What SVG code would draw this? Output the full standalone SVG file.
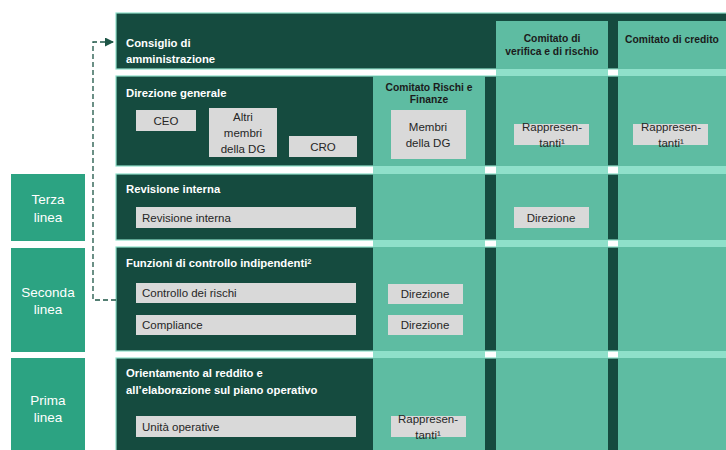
<svg xmlns="http://www.w3.org/2000/svg" width="726" height="450" viewBox="0 0 726 450">
<defs>
<style>
.row{fill:#154b3f;stroke:#8fe0ca;stroke-width:1.2}
.col{fill:#5ebca2}
.gap{fill:#8fe0ca}
.lbl{fill:#2ca382}
.box{fill:#d9d9d9}
.t{font-family:"Liberation Sans",Arial,sans-serif}
.hw{font-family:"Liberation Sans",Arial,sans-serif;font-weight:bold;font-size:11.3px;fill:#ffffff}
.hc{font-family:"Liberation Sans",Arial,sans-serif;font-weight:bold;font-size:10.3px;fill:#1b1b1b;text-anchor:middle}
.bt{font-family:"Liberation Sans",Arial,sans-serif;font-size:11.5px;fill:#262626}
.bc{font-family:"Liberation Sans",Arial,sans-serif;font-size:11.5px;fill:#262626;text-anchor:middle}
.lt{font-family:"Liberation Sans",Arial,sans-serif;font-size:13.5px;fill:#ffffff;text-anchor:middle}
.dash{fill:none;stroke:#1d5546;stroke-width:1.3;stroke-dasharray:5 3}
</style>
<marker id="ah" viewBox="0 0 10 10" refX="10" refY="5" markerWidth="9" markerHeight="9" markerUnits="userSpaceOnUse" orient="auto">
<path d="M0,0 L10,5 L0,10 z" fill="#1d5546"/>
</marker>
</defs>
<rect width="726" height="450" fill="#ffffff"/>

<g id="rows">
<rect class="row" x="116" y="13" width="614" height="56"/>
<rect class="row" x="116" y="76" width="614" height="90"/>
<rect class="row" x="116" y="174" width="614" height="66"/>
<rect class="row" x="116" y="247" width="614" height="104"/>
<rect class="row" x="116" y="358" width="614" height="96"/>
</g>

<g id="columns">
<rect class="col" x="373" y="76" width="112" height="374"/>
<rect class="col" x="496" y="21" width="112" height="429"/>
<rect class="col" x="618" y="21" width="108" height="429"/>
<rect class="gap" x="496" y="69" width="112" height="7"/>
<rect class="gap" x="618" y="69" width="108" height="7"/>
<rect class="gap" x="373" y="166" width="112" height="8"/>
<rect class="gap" x="496" y="166" width="112" height="8"/>
<rect class="gap" x="618" y="166" width="108" height="8"/>
<rect class="gap" x="373" y="240" width="112" height="7"/>
<rect class="gap" x="496" y="240" width="112" height="7"/>
<rect class="gap" x="618" y="240" width="108" height="7"/>
<rect class="gap" x="373" y="351" width="112" height="7"/>
<rect class="gap" x="496" y="351" width="112" height="7"/>
<rect class="gap" x="618" y="351" width="108" height="7"/>
</g>

<g id="consiglio">
<text class="hw" x="126" y="47">Consiglio di</text>
<text class="hw" x="126" y="63">amministrazione</text>
</g>

<g id="direzione-generale">
<text class="hw" x="126" y="97">Direzione generale</text>
<g id="ceo"><rect class="box" x="136" y="110" width="60" height="21"/><text class="bc" x="166" y="125">CEO</text></g>
<g id="altri-membri"><rect class="box" x="209" y="108" width="68" height="49"/>
<text class="bc" x="243" y="121">Altri</text><text class="bc" x="243" y="137">membri</text><text class="bc" x="243" y="153">della DG</text></g>
<g id="cro"><rect class="box" x="289" y="136" width="68" height="21"/><text class="bc" x="323" y="151">CRO</text></g>
</g>

<g id="comitato-rischi-finanze">
<text class="hc" x="429" y="91">Comitato Rischi e</text>
<text class="hc" x="429" y="103">Finanze</text>
<rect class="box" x="391" y="110" width="75" height="49"/>
<text class="bc" x="428" y="131">Membri</text><text class="bc" x="428" y="147">della DG</text>
</g>

<g id="comitato-verifica">
<text class="hc" x="552" y="42">Comitato di</text>
<text class="hc" x="552" y="55">verifica e di rischio</text>
<rect class="box" x="514" y="124" width="75" height="21"/>
<text class="bc" x="552" y="131">Rappresen-</text><text class="bc" x="552" y="147">tanti¹</text>
</g>

<g id="comitato-credito">
<text class="hc" x="672" y="43">Comitato di credito</text>
<rect class="box" x="633" y="124" width="75" height="21"/>
<text class="bc" x="671" y="131">Rappresen-</text><text class="bc" x="671" y="147">tanti¹</text>
</g>

<g id="revisione-interna">
<text class="hw" x="126" y="193">Revisione interna</text>
<rect class="box" x="136" y="207" width="220" height="21"/>
<text class="bt" x="142" y="222">Revisione interna</text>
</g>
<g id="direzione-verifica">
<rect class="box" x="514" y="207" width="75" height="21"/>
<text class="bc" x="551" y="222">Direzione</text>
</g>

<g id="funzioni-controllo">
<text class="hw" x="126" y="267">Funzioni di controllo indipendenti<tspan font-size="7.5" dy="-3.5">2</tspan></text>
<g id="controllo-rischi"><rect class="box" x="136" y="283" width="220" height="20"/><text class="bt" x="142" y="297">Controllo dei rischi</text></g>
<g id="compliance"><rect class="box" x="136" y="315" width="220" height="20"/><text class="bt" x="142" y="329">Compliance</text></g>
</g>
<g id="direzione-rischi">
<rect class="box" x="388" y="284" width="75" height="20"/><text class="bc" x="425" y="298">Direzione</text>
<rect class="box" x="388" y="315" width="75" height="20"/><text class="bc" x="425" y="329">Direzione</text>
</g>

<g id="orientamento">
<text class="hw" x="126" y="377">Orientamento al reddito e</text>
<text class="hw" x="126" y="394">all’elaborazione sul piano operativo</text>
<g id="unita-operative"><rect class="box" x="136" y="416" width="220" height="21"/><text class="bt" x="142" y="431">Unità operative</text></g>
</g>
<g id="rappresentanti-prima">
<rect class="box" x="391" y="416" width="75" height="21"/>
<text class="bc" x="428" y="423">Rappresen-</text><text class="bc" x="428" y="439">tanti¹</text>
</g>

<g id="terza-linea"><rect class="lbl" x="11" y="174" width="74" height="67"/><text class="lt" x="48" y="204">Terza</text><text class="lt" x="48" y="222">linea</text></g>
<g id="seconda-linea"><rect class="lbl" x="11" y="248" width="74" height="104"/><text class="lt" x="48" y="297">Seconda</text><text class="lt" x="48" y="314">linea</text></g>
<g id="prima-linea"><rect class="lbl" x="11" y="358" width="74" height="92"/><text class="lt" x="48" y="405">Prima</text><text class="lt" x="48" y="422">linea</text></g>

<g id="connectors">
<path class="dash" d="M116,300 H93 V42 H114" marker-end="url(#ah)"/>
</g>
</svg>
